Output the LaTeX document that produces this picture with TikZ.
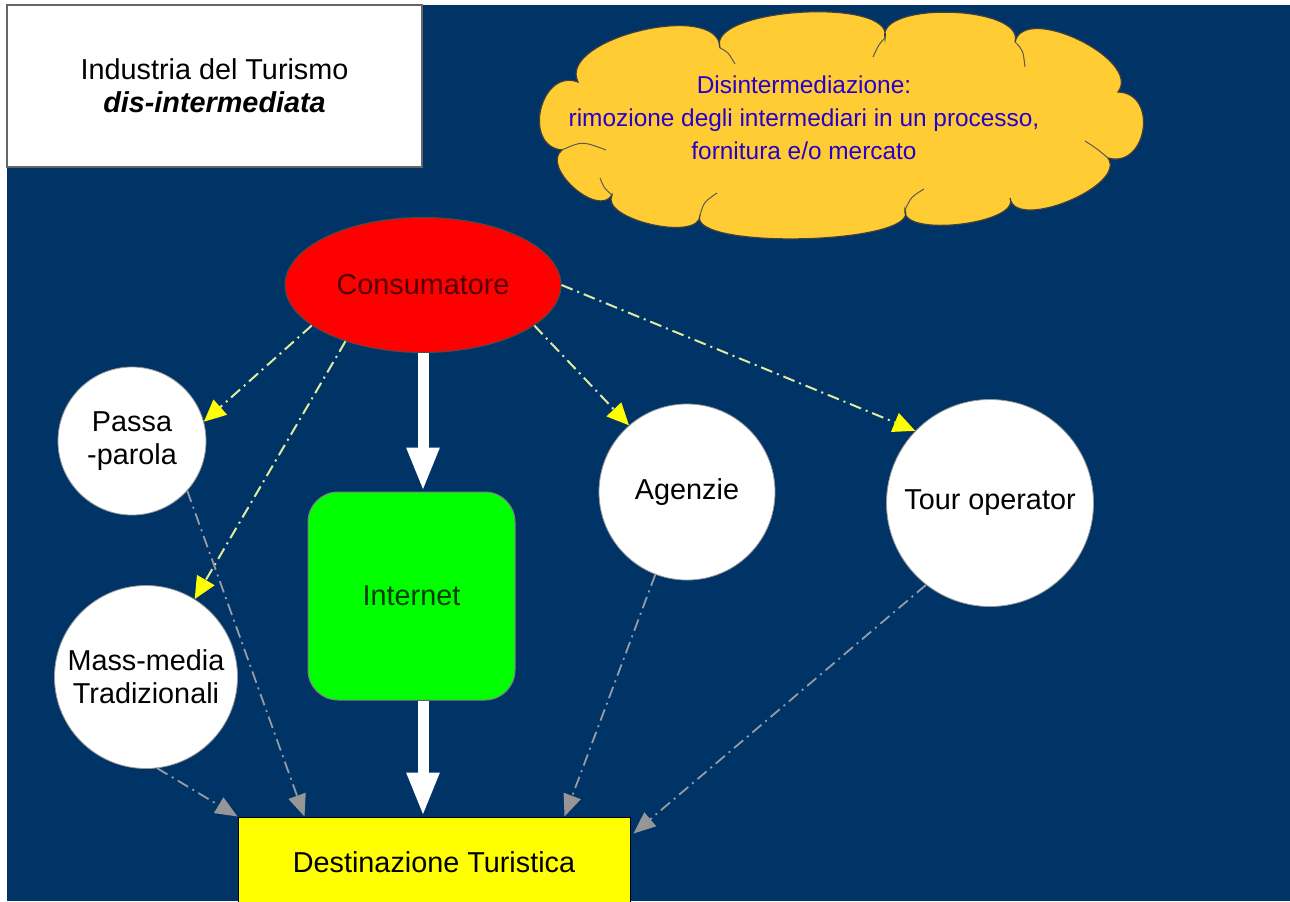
\documentclass[tikz,border=0pt]{standalone}
\usepackage{fontspec}
\setmainfont{Liberation Sans}
\usetikzlibrary{shapes.geometric,arrows.meta,calc}
\definecolor{navy}{RGB}{0,51,102}
\definecolor{cloudy}{RGB}{255,204,51}
\definecolor{cloudtext}{RGB}{40,0,200}
\definecolor{consred}{RGB}{255,0,0}
\definecolor{constext}{RGB}{85,0,0}
\definecolor{inetgreen}{RGB}{0,255,0}
\definecolor{inettext}{RGB}{0,60,0}
\definecolor{destyellow}{RGB}{255,255,0}
\definecolor{dashyellow}{RGB}{225,235,160}
\definecolor{tipyellow}{RGB}{255,255,0}
\definecolor{dashgray}{RGB}{150,155,165}
\definecolor{tipgray}{RGB}{150,150,150}
\begin{document}
\begin{tikzpicture}[x=0.5pt,y=-0.5pt,
  every node/.style={font=\fontsize{14.4}{16.5}\selectfont, align=center, inner sep=0pt},
  circ/.style={circle, fill=white, draw=black!40, line width=0.4pt},
  warrow/.style={draw=white, line width=5.5pt, -{Triangle[length=22pt,width=15pt,color=white]}},
  ydash/.style={draw=dashyellow, line width=1pt, dash pattern=on 6pt off 2.5pt on 1pt off 2.5pt, -{Triangle[length=11pt,width=10pt,color=tipyellow]}},
  gdash/.style={draw=dashgray, line width=0.9pt, dash pattern=on 6pt off 2.5pt on 1pt off 2.5pt, -{Triangle[length=11pt,width=9pt,color=tipgray]}},
  cloudline/.style={draw=black!75, line width=0.6pt},
  cloudarc/.style={draw=black!65, line width=0.5pt}
]
\useasboundingbox (0,0) rectangle (1290,901);
\fill[white] (0,0) rectangle (1290,901);
\fill[navy] (7,5) rectangle (1290,901);

% title box
\node[draw=black!60, fill=white, line width=0.6pt, minimum width=207.5pt, minimum height=81pt] (title) at (214.5,86)
  {Industria del Turismo\\\textbf{\textit{dis-intermediata}}};

% cloud
\filldraw[cloudline, fill=cloudy]
 (562,150) .. controls (521.8,146.1) and (540.2,67.9) .. (578,82)
 .. controls (556.35,38.55) and (719.65,-0.55) .. (720,48)
 .. controls (705.6,7.75) and (895.4,-3.75) .. (885,38)
 .. controls (876.25,0.7) and (1025.75,5.3) .. (1015,42)
 .. controls (1024.3,2.25) and (1142.7,59.75) .. (1118,92)
 .. controls (1158.75,93.05) and (1147.25,168.95) .. (1108,158)
 .. controls (1127.35,186) and (1014.65,232) .. (1010,198)
 .. controls (1020.9,224.1) and (900.1,237.9) .. (905,210)
 .. controls (921.4,244.6) and (685.6,250.4) .. (700,215)
 .. controls (700.6,242.5) and (599.4,219.5) .. (612,195)
 .. controls (597.75,218.4) and (540.25,166.6) .. (562,150) -- cycle;
% inner arcs of the cloud
\draw[cloudarc] (562,150) .. controls (582,141) .. (606,150);
\draw[cloudarc] (720,48) .. controls (728,52) .. (735,64);
\draw[cloudarc] (885,38) .. controls (879,44) .. (873,57);
\draw[cloudarc] (1015,42) .. controls (1023,50) .. (1025,67);
\draw[cloudarc] (1108,158) .. controls (1096,148) .. (1085,141);
\draw[cloudarc] (905,210) .. controls (911,197) .. (924,189);
\draw[cloudarc] (700,215) .. controls (704,202) .. (717,193);
\draw[cloudarc] (612,195) .. controls (604,188) .. (600,178);
\node[text=cloudtext, font=\fontsize{12.2}{16.5}\selectfont] (cloudtxt) at (804,118)
  {Disintermediazione:\\rimozione degli intermediari in un processo,\\fornitura e/o mercato};

% nodes
\node[ellipse, fill=consred, draw=black!70, line width=0.5pt, minimum width=138pt, minimum height=67.5pt, text=constext] (cons) at (423,285) {Consumatore};
\node[circ, minimum size=74pt] (passa) at (132,441) {Passa\\-parola};
\node[circ, minimum size=91.5pt] (mass) at (146,677) {Mass-media\\Tradizionali};
\node[rectangle, rounded corners=15pt, fill=inetgreen, draw=black!50, line width=0.5pt, minimum width=103.5pt, minimum height=104pt, text=inettext] (inet) at (411.5,596) {Internet};
\node[circ, minimum size=88pt] (ag) at (687,492) {Agenzie};
\node[circ, minimum size=103.5pt] (tour) at (990,503) {Tour operator};
\node[rectangle, fill=destyellow, draw=black, line width=0.5pt, minimum width=196pt, minimum height=45pt] (dest) at (434,862) {Destinazione Turistica};

% white arrows
\draw[warrow] (cons.south) -- (cons.south |- inet.north);
\draw[warrow] (inet.south -| cons.south) -- (cons.south |- dest.north);

% yellow dash-dot arrows
\draw[ydash] (cons.200) -- (passa.15);
\draw[ydash] (cons.216) -- (mass.58);
\draw[ydash] (cons.340) -- (ag.131);
\draw[ydash] (cons.east) -- (tour.136);

% gray dash-dot arrows
\draw[gdash] (passa.318) -- ($(dest.north west)+(67,0)$);
\draw[gdash] (mass.-83) -- (dest.north west);
\draw[gdash] (ag.249) -- ($(dest.north west)+(327,0)$);
\draw[gdash] (tour.232) -- ($(dest.north east)+(3,17)$);
\end{tikzpicture}
\end{document}
